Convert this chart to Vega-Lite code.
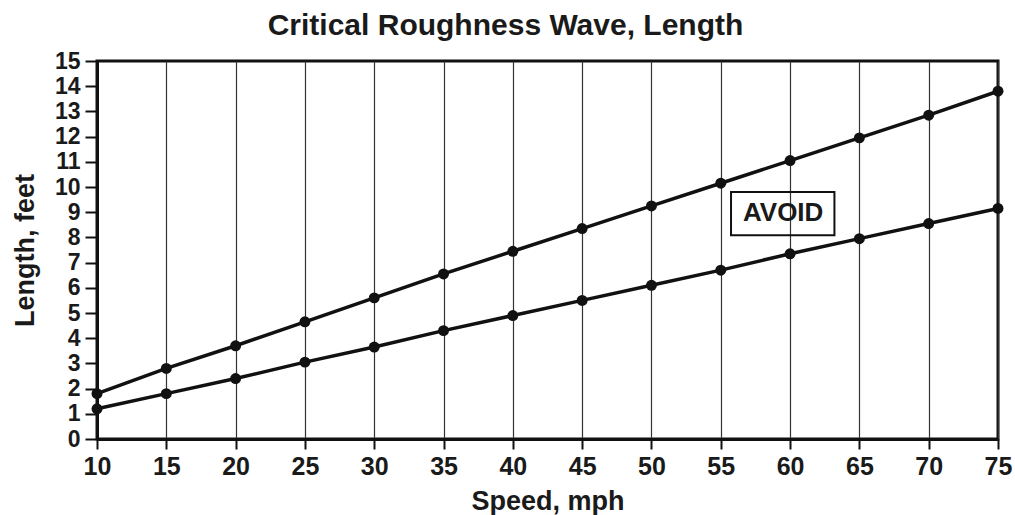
{
  "$schema": "https://vega.github.io/schema/vega-lite/v6.json",
  "autosize": {"type": "none"},
  "width": 901,
  "height": 378,
  "padding": {"left": 97, "top": 61, "right": 17, "bottom": 76},
  "background": "white",
  "config": {
    "font": "Liberation Sans",
    "view": {"stroke": "#111", "strokeWidth": 3}
  },
  "title": {
    "text": "Critical Roughness Wave, Length",
    "font": "Liberation Sans",
    "fontSize": 30,
    "fontWeight": "bold",
    "color": "#1a1a1a",
    "anchor": "middle",
    "dx": -42,
    "offset": 9
  },
  "datasets": {
    "curves": [
      {"speed": 10, "length": 1.8, "series": "upper"},
      {"speed": 15, "length": 2.8, "series": "upper"},
      {"speed": 20, "length": 3.7, "series": "upper"},
      {"speed": 25, "length": 4.65, "series": "upper"},
      {"speed": 30, "length": 5.6, "series": "upper"},
      {"speed": 35, "length": 6.55, "series": "upper"},
      {"speed": 40, "length": 7.45, "series": "upper"},
      {"speed": 45, "length": 8.35, "series": "upper"},
      {"speed": 50, "length": 9.25, "series": "upper"},
      {"speed": 55, "length": 10.15, "series": "upper"},
      {"speed": 60, "length": 11.05, "series": "upper"},
      {"speed": 65, "length": 11.95, "series": "upper"},
      {"speed": 70, "length": 12.85, "series": "upper"},
      {"speed": 75, "length": 13.8, "series": "upper"},
      {"speed": 10, "length": 1.2, "series": "lower"},
      {"speed": 15, "length": 1.8, "series": "lower"},
      {"speed": 20, "length": 2.4, "series": "lower"},
      {"speed": 25, "length": 3.05, "series": "lower"},
      {"speed": 30, "length": 3.65, "series": "lower"},
      {"speed": 35, "length": 4.3, "series": "lower"},
      {"speed": 40, "length": 4.9, "series": "lower"},
      {"speed": 45, "length": 5.5, "series": "lower"},
      {"speed": 50, "length": 6.1, "series": "lower"},
      {"speed": 55, "length": 6.7, "series": "lower"},
      {"speed": 60, "length": 7.35, "series": "lower"},
      {"speed": 65, "length": 7.95, "series": "lower"},
      {"speed": 70, "length": 8.55, "series": "lower"},
      {"speed": 75, "length": 9.15, "series": "lower"}
    ],
    "note": [
      {"label": "AVOID", "x": 59.5, "y": 8.95, "x1": 55.74, "x2": 63.2, "y1": 8.09, "y2": 9.8}
    ]
  },
  "data": {"name": "curves"},
  "encoding": {
    "x": {
      "field": "speed", "type": "quantitative",
      "scale": {"domain": [10, 75], "nice": false, "zero": false},
      "axis": {
        "title": "Speed, mph",
        "values": [10, 15, 20, 25, 30, 35, 40, 45, 50, 55, 60, 65, 70, 75],
        "grid": true, "gridColor": "#333", "gridWidth": 1.2,
        "domainColor": "#111", "domainWidth": 3,
        "tickColor": "#111", "tickWidth": 2, "tickSize": 10,
        "labelFont": "Liberation Sans", "labelFontSize": 25, "labelFontWeight": "bold", "labelColor": "#1a1a1a",
        "labelPadding": 5, "labelFlush": false, "labelOverlap": false,
        "titleFont": "Liberation Sans", "titleFontSize": 27, "titleFontWeight": "bold", "titleColor": "#1a1a1a",
        "titlePadding": 9
      }
    },
    "y": {
      "field": "length", "type": "quantitative",
      "scale": {"domain": [0, 15], "nice": false},
      "axis": {
        "title": "Length, feet",
        "values": [0, 1, 2, 3, 4, 5, 6, 7, 8, 9, 10, 11, 12, 13, 14, 15],
        "grid": false,
        "domainColor": "#111", "domainWidth": 3,
        "tickColor": "#111", "tickWidth": 2, "tickSize": 12,
        "labelFont": "Liberation Sans", "labelFontSize": 23, "labelFontWeight": "bold", "labelColor": "#1a1a1a",
        "labelPadding": 5, "labelFlush": false, "labelOverlap": false,
        "titleFont": "Liberation Sans", "titleFontSize": 27, "titleFontWeight": "bold", "titleColor": "#1a1a1a",
        "titlePadding": 15
      }
    }
  },
  "layer": [
    {
      "mark": {"type": "line", "color": "#111", "strokeWidth": 3.5},
      "encoding": {"detail": {"field": "series", "type": "nominal"}}
    },
    {
      "mark": {"type": "point", "filled": true, "color": "#111", "size": 120, "opacity": 1}
    },
    {
      "data": {"name": "note"},
      "mark": {"type": "rect", "fill": null, "fillOpacity": 0, "stroke": "#111", "strokeWidth": 2},
      "encoding": {
        "x": {"field": "x1", "type": "quantitative"},
        "x2": {"field": "x2"},
        "y": {"field": "y1", "type": "quantitative"},
        "y2": {"field": "y2"}
      }
    },
    {
      "data": {"name": "note"},
      "mark": {"type": "text", "font": "Liberation Sans", "fontSize": 26, "fontWeight": "bold", "color": "#1a1a1a", "align": "center", "baseline": "middle"},
      "encoding": {
        "x": {"field": "x", "type": "quantitative"},
        "y": {"field": "y", "type": "quantitative"},
        "text": {"field": "label"}
      }
    }
  ]
}
